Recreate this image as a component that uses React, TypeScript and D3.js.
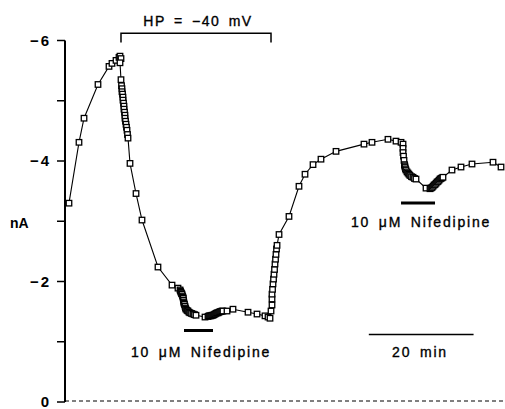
import { useMemo } from "react";
import * as d3 from "d3";

const W = 505;
const H = 409;

// time in minutes, current in nA (inward = negative)
const timeMin = [
  0.76, 2.67, 3.63, 6.3, 8.4, 8.97, 9.74, 10.31, 10.5, 10.69, 10.5, 10.69,
  10.79, 10.88, 10.88, 10.98, 11.07, 11.07, 11.17, 11.26, 11.26, 11.36, 11.45, 11.45,
  11.55, 11.65, 11.74, 11.84, 11.93, 12.03,
  12.41, 13.56, 14.7, 17.75, 20.43, 21.57,
  21.96, 22.05, 22.15, 22.25, 22.34, 22.44, 22.53, 22.58, 22.62, 22.67, 22.72, 22.8, 22.91,
  23.0, 23.1, 23.3, 23.48, 23.67, 23.86, 24.15, 24.44, 24.72, 25.01,
  26.73,
  27.3, 27.49, 27.68, 27.87, 28.06, 28.26, 28.45, 28.64, 28.83, 29.02, 29.21, 29.4, 29.59,
  29.78, 29.97, 30.16,
  30.93, 32.07, 34.94, 36.66, 38.18, 38.76, 39.14, 39.33,
  39.52, 39.52, 39.52, 39.62, 39.71, 39.81, 39.9, 40.0, 40.09, 40.19, 40.28, 40.38, 40.48,
  40.86, 42.76, 44.67, 45.82, 47.35, 48.87, 51.74, 57.08, 58.61, 61.66, 63.19, 64.15, 64.53,
  64.53, 64.53, 64.62, 64.72, 64.81, 64.86, 64.91, 65.0, 65.1, 65.29, 65.48, 65.67, 65.86,
  66.15, 66.44, 66.72, 67.01,
  68.92,
  69.68, 69.87, 70.07, 70.26, 70.45, 70.64, 70.83, 71.02, 71.21, 71.4, 71.59, 71.78, 71.97,
  72.16,
  73.88, 75.6, 77.7, 81.71, 83.24,
];

const currentNA = [
  -3.3, -4.31, -4.71, -5.27, -5.57, -5.62, -5.67, -5.72, -5.74, -5.7, -5.63, -5.35,
  -5.25, -5.2, -5.15, -5.11, -5.06, -5.01, -4.96, -4.91, -4.86, -4.81, -4.76, -4.71,
  -4.66, -4.61, -4.56, -4.51, -4.44, -4.38,
  -3.96, -3.46, -3.02, -2.24, -1.94, -1.89,
  -1.86, -1.84, -1.82, -1.8, -1.79, -1.76, -1.74, -1.72, -1.69, -1.66, -1.64, -1.62, -1.59,
  -1.56, -1.54, -1.52, -1.51, -1.49, -1.48, -1.47, -1.46, -1.45, -1.44,
  -1.41,
  -1.42, -1.43, -1.43, -1.43, -1.44, -1.44, -1.45, -1.46, -1.47, -1.48, -1.48, -1.49, -1.5,
  -1.5, -1.51, -1.51,
  -1.51, -1.54, -1.49, -1.46, -1.43, -1.41, -1.39, -1.51,
  -1.61, -1.71, -1.79, -1.87, -1.96, -2.04, -2.12, -2.2, -2.29, -2.37, -2.45, -2.54, -2.6,
  -2.78, -3.08, -3.58, -3.78, -3.94, -4.03, -4.16, -4.28, -4.31, -4.36, -4.33, -4.31, -4.28,
  -4.21, -4.14, -4.08, -4.01, -3.94, -3.92, -3.9, -3.87, -3.85, -3.82, -3.8, -3.78, -3.76,
  -3.74, -3.73, -3.71, -3.7,
  -3.55,
  -3.54, -3.55, -3.56, -3.58, -3.6, -3.61, -3.63, -3.65, -3.66, -3.68, -3.7, -3.71, -3.72,
  -3.73,
  -3.85, -3.9, -3.95, -3.98, -3.9,
];

const majorTicks = [-6, -4, -2, 0];
const minorTicks = [-5, -3, -1];
const tickLabels = ["\u22126", "\u22124", "\u22122", "0"];

const hpPeriod = [10.69, 39.33];
const nifedipine1 = [22.72, 28.26];
const nifedipine2 = [64.15, 70.64];
const scaleBar = [58, 78];

export default function App() {
  const x = useMemo(() => d3.scaleLinear().domain([0, 84]).range([65, 505]), []);
  const y = useMemo(() => d3.scaleLinear().domain([0, -6]).range([402, 40.5]), []);

  const pts = timeMin.map((t, i) => [t, currentNA[i]] as [number, number]);
  const path = d3
    .line<[number, number]>()
    .x((d) => x(d[0]))
    .y((d) => y(d[1]))(pts);

  const font = "'Liberation Sans', Arial, Helvetica, sans-serif";
  const x0 = x(0);
  const txt = { stroke: "#000", strokeWidth: 0.35 };

  return (
    <svg
      width={W}
      height={H}
      style={{ position: "absolute", left: 0, top: 0, background: "#fff" }}
      fontFamily={font}
    >
      {/* y axis */}
      <line x1={x0} x2={x0} y1={y(-6)} y2={y(0)} stroke="#000" strokeWidth={2} />
      {majorTicks.concat(minorTicks).map((v) => (
        <line key={v} x1={x0 - 8} x2={x0} y1={y(v)} y2={y(v)} stroke="#000" strokeWidth={1.5} />
      ))}
      {majorTicks.map((v, i) => (
        <text
          key={v}
          x={51}
          y={y(v)}
          dy="0.36em"
          textAnchor="end"
          fontSize={15}
          fontWeight="bold"
          letterSpacing={2}
        >
          {tickLabels[i]}
        </text>
      ))}
      <text x={10} y={y(-3)} dy="0.5em" fontSize={14} fontWeight="bold">
        nA
      </text>

      {/* zero line */}
      <line x1={x0} x2={W} y1={y(0) - 1} y2={y(0) - 1} stroke="#000" strokeWidth={1} strokeDasharray="4,3" />

      {/* trace */}
      <path d={path ?? ""} fill="none" stroke="#000" strokeWidth={1.1} />
      {pts.map((d, i) => (
        <rect
          key={i}
          x={x(d[0]) - 2.75}
          y={y(d[1]) - 2.75}
          width={5.5}
          height={5.5}
          fill="#fff"
          stroke="#000"
          strokeWidth={1.3}
        />
      ))}

      {/* HP bracket */}
      <path
        d={`M${x(hpPeriod[0])},${y(-6) + 2}V${y(-6.12)}H${x(hpPeriod[1])}V${y(-6) + 2}`}
        fill="none"
        stroke="#000"
        strokeWidth={1.5}
      />
      <text {...txt} x={(x(hpPeriod[0]) + x(hpPeriod[1])) / 2 + 2} y={26} textAnchor="middle" fontSize={14} letterSpacing={1.5} wordSpacing={3}>
        HP = {"\u2212"}40 mV
      </text>

      {/* nifedipine bars */}
      <line x1={x(nifedipine1[0])} x2={x(nifedipine1[1])} y1={330.5} y2={330.5} stroke="#000" strokeWidth={3} />
      <text {...txt} x={201} y={357} textAnchor="middle" fontSize={14} letterSpacing={1.8} wordSpacing={3}>
        10 {"\u03bc"}M Nifedipine
      </text>
      <line x1={x(nifedipine2[0])} x2={x(nifedipine2[1])} y1={203} y2={203} stroke="#000" strokeWidth={3} />
      <text {...txt} x={421} y={227} textAnchor="middle" fontSize={14} letterSpacing={1.8} wordSpacing={3}>
        10 {"\u03bc"}M Nifedipine
      </text>

      {/* time scale bar */}
      <line x1={x(scaleBar[0])} x2={x(scaleBar[1])} y1={334.5} y2={334.5} stroke="#000" strokeWidth={1.5} />
      <text {...txt} x={420} y={357} textAnchor="middle" fontSize={14} letterSpacing={1.8} wordSpacing={3}>
        20 min
      </text>
    </svg>
  );
}
